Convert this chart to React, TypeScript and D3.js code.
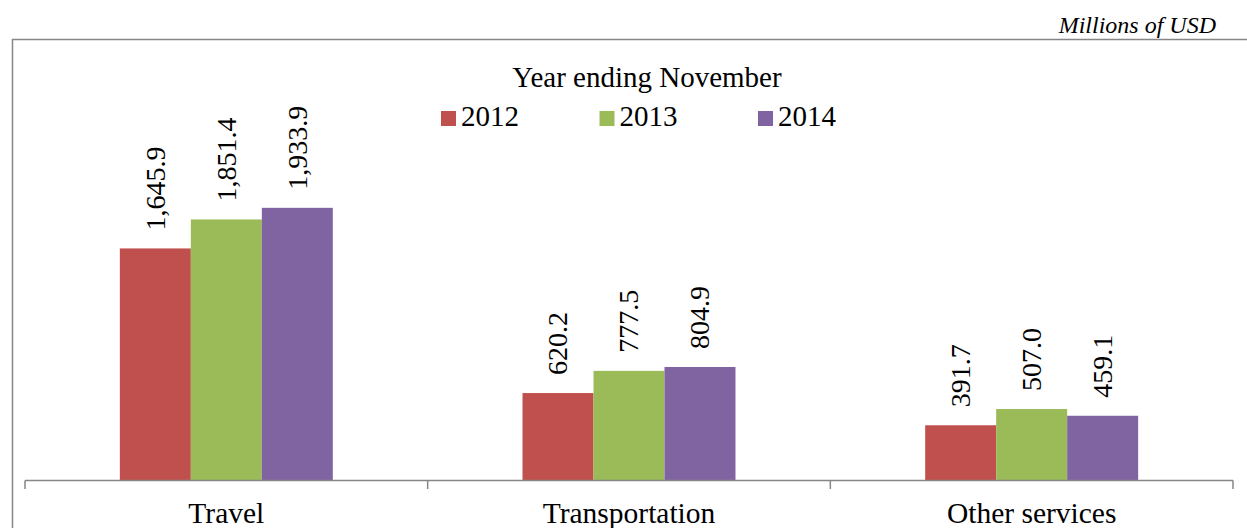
import React, { useEffect, useRef } from 'react';
import * as d3 from 'd3';

const categories = ['Travel', 'Transportation', 'Other services'];
const years = ['2012', '2013', '2014'];
const values2012 = [1645.9, 620.2, 391.7];
const values2013 = [1851.4, 777.5, 507.0];
const values2014 = [1933.9, 804.9, 459.1];
const colors = ['#C0504D', '#9BBB59', '#8064A2'];

const App: React.FC = () => {
  const svgRef = useRef<SVGSVGElement>(null);

  useEffect(() => {
    if (!svgRef.current) return;
    const svg = d3.select(svgRef.current);
    svg.selectAll('*').remove();

    const width = 1247;
    const height = 528;
    const font = '"Liberation Serif", "Times New Roman", serif';
    const axisY = 480.5;
    const series = [values2012, values2013, values2014];

    // outer frame
    svg.append('rect')
      .attr('x', 12.5).attr('y', 39.5)
      .attr('width', width + 50).attr('height', height + 50)
      .attr('fill', 'none')
      .attr('stroke', '#868686')
      .attr('stroke-width', 1.5);

    svg.append('text')
      .attr('x', 1216).attr('y', 33)
      .attr('text-anchor', 'end')
      .attr('font-family', font)
      .attr('font-style', 'italic')
      .attr('font-size', 24)
      .text('Millions of USD');

    const x0 = d3.scaleBand<string>()
      .domain(categories)
      .range([25, 1233])
      .padding(0);

    const x1 = d3.scaleBand<string>()
      .domain(years)
      .range([0, x0.bandwidth()])
      .paddingInner(0)
      .paddingOuter(1.336);

    const y = d3.scaleLinear()
      .domain([0, 2500])
      .range([axisY, axisY - 352.5]);

    // bars
    series.forEach((vals, si) => {
      const g = svg.append('g');
      g.selectAll('rect')
        .data(vals)
        .enter().append('rect')
        .attr('x', (_, i) => (x0(categories[i]) as number) + (x1(years[si]) as number))
        .attr('y', d => y(d))
        .attr('width', x1.bandwidth())
        .attr('height', d => axisY - y(d))
        .attr('fill', colors[si]);

      g.selectAll('text')
        .data(vals)
        .enter().append('text')
        .attr('transform', (d, i) => {
          const cx = (x0(categories[i]) as number) + (x1(years[si]) as number) + x1.bandwidth() / 2;
          return `translate(${cx},${y(d) - 18}) rotate(-90)`;
        })
        .attr('dy', '0.33em')
        .attr('font-family', font)
        .attr('font-size', 28)
        .attr('text-anchor', 'start')
        .text(d => d3.format(',.1f')(d));
    });

    // category axis
    svg.append('line')
      .attr('x1', 25).attr('x2', 1233)
      .attr('y1', axisY).attr('y2', axisY)
      .attr('stroke', '#868686').attr('stroke-width', 1.5);

    const tickPos = categories.map(c => x0(c) as number).concat([1233]);
    svg.selectAll('.tick')
      .data(tickPos)
      .enter().append('line')
      .attr('x1', d => d).attr('x2', d => d)
      .attr('y1', axisY).attr('y2', 489)
      .attr('stroke', '#868686').attr('stroke-width', 1.5);

    svg.selectAll('.cat')
      .data(categories)
      .enter().append('text')
      .attr('x', d => (x0(d) as number) + x0.bandwidth() / 2)
      .attr('y', 523)
      .attr('text-anchor', 'middle')
      .attr('font-family', font)
      .attr('font-size', 29.5)
      .text(d => d);

    // legend
    svg.append('text')
      .attr('x', 647).attr('y', 87)
      .attr('text-anchor', 'middle')
      .attr('font-family', font)
      .attr('font-size', 29)
      .text('Year ending November');

    const legend = svg.append('g');
    years.forEach((yr, i) => {
      const lx = 441 + i * 158.5;
      legend.append('rect')
        .attr('x', lx).attr('y', 111)
        .attr('width', 15).attr('height', 15)
        .attr('fill', colors[i]);
      legend.append('text')
        .attr('x', lx + 20).attr('y', 126)
        .attr('font-family', font)
        .attr('font-size', 29)
        .text(yr);
    });
  }, []);

  return (
    <svg
      ref={svgRef}
      width={1247}
      height={528}
      style={{ position: 'absolute', left: 0, top: 0, background: '#fff' }}
    />
  );
};

export default App;
